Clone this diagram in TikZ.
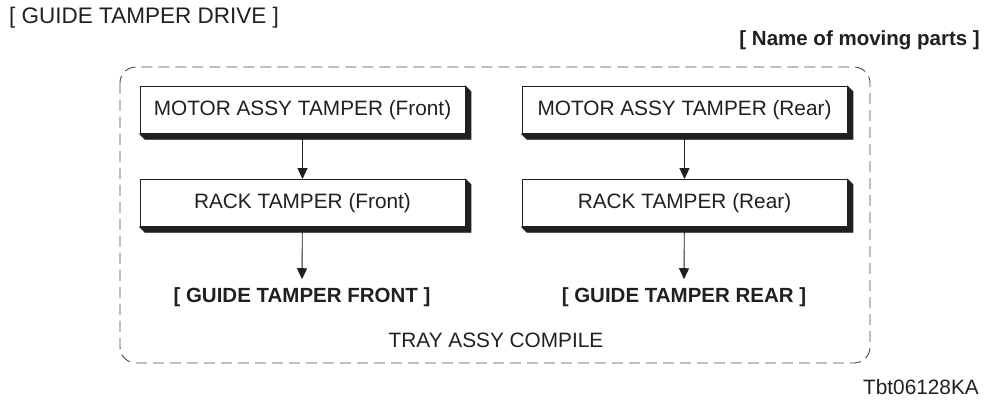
\documentclass[tikz,border=0pt]{standalone}
\usepackage{fontspec}
\setmainfont{Liberation Sans}
\usetikzlibrary{arrows.meta,positioning}
\definecolor{TAMInk}{HTML}{231F20}
\definecolor{TAMDash}{HTML}{4A4A4A}
\tikzset{
  tambox/.style={
    draw=TAMInk,
    fill=white,
    line width=0.9pt,
    minimum width=325pt,
    minimum height=47pt,
    font=\fontsize{20.8}{24}\selectfont,
    text=TAMInk
  },
  tamedge/.style={fill=TAMInk,draw=TAMInk,line width=0.6pt,line join=miter},
  tamflow/.style={-{Triangle[length=11pt,width=10pt]},draw=TAMInk,line width=0.9pt},
  tamframe/.style={draw=TAMDash,line width=0.9pt,dash pattern=on 11pt off 6pt,rounded corners=16pt}
}
\begin{document}
\begin{tikzpicture}[
  x=1pt,y=1pt,
  txt/.style={font=\fontsize{20.8}{24}\selectfont,text=TAMInk,inner sep=0pt},
  boldtxt/.style={txt,font=\fontsize{20.5}{24}\selectfont\bfseries}
]
  \useasboundingbox (0,0) rectangle (989,403);

  \node[txt,font=\fontsize{22.5}{26}\selectfont,anchor=west] (title) at (9,385) {[ GUIDE TAMPER DRIVE ]};
  \node[boldtxt,anchor=east] (legend) at (980,363) {[ Name of moving parts ]};

  \draw[tamframe] (120,336) rectangle (870,40);

  \node[tambox] (motorF) at (302.5,293) {MOTOR ASSY TAMPER (Front)};
  \node[tambox] (rackF) at (302.5,200) {RACK TAMPER (Front)};
  \node[tambox] (motorR) at (684.5,293) {MOTOR ASSY TAMPER (Rear)};
  \node[tambox] (rackR) at (684.5,200) {RACK TAMPER (Rear)};

  % bevelled edge on the right and bottom of each box
  \foreach \b in {motorF,rackF,motorR,rackR}
    \draw[tamedge] (\b.north east) -- ++(5.5,-5.5)
      -- ([shift={(5.5,-5.5)}]\b.south east) -- ([shift={(5.5,-5.5)}]\b.south west)
      -- (\b.south west) -- (\b.south east) -- cycle;

  \node[boldtxt] (guideF) at (302,106) {[ GUIDE TAMPER FRONT ]};
  \node[boldtxt] (guideR) at (684,106) {[ GUIDE TAMPER REAR ]};
  \node[txt] (tray) at (496,63) {TRAY ASSY COMPILE};
  \node[txt,anchor=east] (code) at (979,16) {Tbt06128KA};

  \draw[tamflow] (motorF) -- (rackF);
  \draw[tamflow] (motorR) -- (rackR);
  \draw[tamflow] (rackF) -- ([yshift=8pt]guideF.north);
  \draw[tamflow] (rackR) -- ([yshift=8pt]guideR.north);
\end{tikzpicture}
\end{document}
